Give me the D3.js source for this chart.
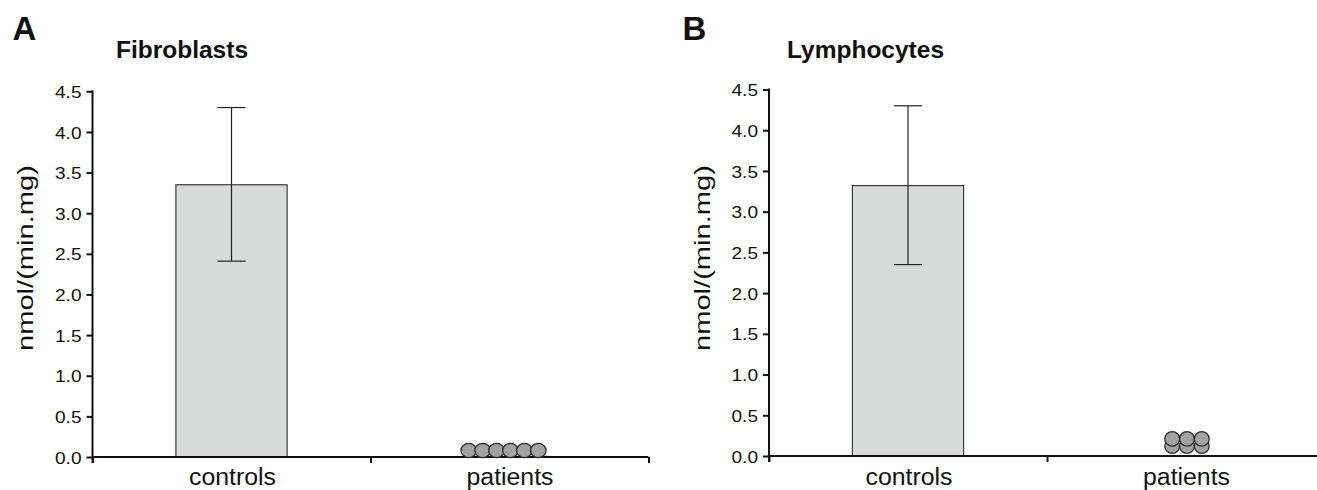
<!DOCTYPE html>
<html>
<head>
<meta charset="utf-8">
<script src="https://cdn.jsdelivr.net/npm/d3@7"></script>
<style>
  html, body { margin: 0; padding: 0; background: #fff; }
  svg { display: block; font-family: "Liberation Sans", Arial, Helvetica, sans-serif; }
</style>
</head>
<body>
<svg id="chart" width="1317" height="490"></svg>
<script>
// ---- data ----
const categories = ["controls", "patients"];
const yTicks = [0, 0.5, 1.0, 1.5, 2.0, 2.5, 3.0, 3.5, 4.0, 4.5];
const panelLetters = ["A", "B"];
const panelTitles = ["Fibroblasts", "Lymphocytes"];
const yLabel = "nmol/(min.mg)";

const controlMeans = [3.35, 3.32];
const controlErrLow = [2.41, 2.35];
const controlErrHigh = [4.30, 4.30];

const patientsFibroblasts = [0.08, 0.08, 0.08, 0.08, 0.08, 0.08];
const patientsLymphocytes = [0.12, 0.12, 0.12, 0.21, 0.21, 0.21];
const patientValues = [patientsFibroblasts, patientsLymphocytes];

// ---- layout ----
const layouts = [
  { axisX: 92.5, y0: 457, yTop: 91.3, letterX: 12.5, titleX: 182, dotShift: -6, dotSpacing: 13.9, rx: 7.8, ry: 7.1, catY: 484.5 },
  { axisX: 769, y0: 456, yTop: 89.5, letterX: 682.5, titleX: 865.5, dotShift: 1, dotSpacing: 14.8, rx: 7.4, ry: 7.2, catY: 484.5 }
];
const bandWidth = 278;

const svg = d3.select("#chart");

layouts.forEach((L, p) => {
  const g = svg.append("g");
  const y = d3.scaleLinear().domain([0, 4.5]).range([L.y0, L.yTop]);
  const x = d3.scaleBand().domain(categories).range([L.axisX, L.axisX + bandWidth * categories.length]).paddingInner(0).paddingOuter(0);
  const xEdge = d3.scaleLinear().domain([0, categories.length]).range([L.axisX, L.axisX + bandWidth * categories.length]);

  // panel letter and title
  g.append("text").attr("x", L.letterX).attr("y", 39.6)
    .attr("font-size", 33).attr("font-weight", "bold").attr("fill", "#111")
    .text(panelLetters[p]);
  g.append("text").attr("x", L.titleX).attr("y", 58.3)
    .attr("text-anchor", "middle")
    .attr("font-size", 24.5).attr("font-weight", "bold").attr("fill", "#111")
    .text(panelTitles[p]);

  // y label
  g.append("text")
    .attr("transform", `translate(${L.axisX - 59.5},${258}) rotate(-90)`)
    .attr("text-anchor", "middle")
    .attr("font-size", 22.5).attr("fill", "#111")
    .attr("textLength", 186).attr("lengthAdjust", "spacingAndGlyphs")
    .text(yLabel);

  // bar for controls
  const bw = bandWidth * 0.4;
  const cx = x("controls") + x.bandwidth() / 2;
  g.append("rect")
    .attr("x", cx - bw / 2).attr("y", y(controlMeans[p]))
    .attr("width", bw).attr("height", y(0) - y(controlMeans[p]))
    .attr("fill", "#d9dbdb").attr("stroke", "#3a3a3a").attr("stroke-width", 1.2);

  // error bar
  const capW = 28;
  g.append("line").attr("x1", cx).attr("x2", cx)
    .attr("y1", y(controlErrLow[p])).attr("y2", y(controlErrHigh[p]))
    .attr("stroke", "#222").attr("stroke-width", 1.2);
  [controlErrLow[p], controlErrHigh[p]].forEach(v => {
    g.append("line").attr("x1", cx - capW / 2).attr("x2", cx + capW / 2)
      .attr("y1", y(v)).attr("y2", y(v))
      .attr("stroke", "#222").attr("stroke-width", 1.2);
  });

  // y axis
  const yAxis = d3.axisLeft(y).tickValues(yTicks).tickFormat(d3.format(".1f"))
    .tickSize(6).tickPadding(5);
  const ya = g.append("g").attr("transform", `translate(${L.axisX},0)`).call(yAxis);
  ya.select(".domain").remove();
  ya.selectAll(".tick line").attr("stroke", "#111").attr("stroke-width", 2);
  ya.selectAll(".tick text")
    .attr("font-family", "Liberation Sans, Arial, sans-serif")
    .attr("font-size", 17).attr("fill", "#111")
    .attr("dy", "0.36em")
    .attr("textLength", 26.5).attr("lengthAdjust", "spacingAndGlyphs");

  // x axis with ticks at band edges
  const xAxis = d3.axisBottom(xEdge).tickValues(d3.range(categories.length + 1))
    .tickFormat("").tickSize(6).tickSizeOuter(0);
  const xa = g.append("g").attr("transform", `translate(0,${L.y0})`).call(xAxis);
  xa.select(".domain").remove();
  xa.selectAll(".tick line").attr("stroke", "#111").attr("stroke-width", 2);

  // axis lines
  g.append("line").attr("x1", L.axisX).attr("x2", L.axisX)
    .attr("y1", L.yTop - 1).attr("y2", L.y0 + 6)
    .attr("stroke", "#111").attr("stroke-width", 2);
  g.append("line").attr("x1", L.axisX).attr("x2", xEdge(categories.length))
    .attr("y1", L.y0).attr("y2", L.y0)
    .attr("stroke", "#111").attr("stroke-width", 2);

  // category labels
  categories.forEach(c => {
    g.append("text")
      .attr("x", x(c) + x.bandwidth() / 2 + (c === "controls" ? 1 : 0.5))
      .attr("y", L.catY)
      .attr("text-anchor", "middle")
      .attr("font-size", 23).attr("fill", "#111")
      .attr("textLength", 87).attr("lengthAdjust", "spacingAndGlyphs")
      .text(c);
  });

  // patient dots: identical values placed side by side
  const vals = patientValues[p];
  const groups = d3.groups(vals, v => v).sort((a, b) => a[0] - b[0]);
  const pcx = x("patients") + x.bandwidth() / 2 + L.dotShift;
  groups.forEach(([v, arr]) => {
    arr.forEach((d, i) => {
      g.append("ellipse")
        .attr("cx", pcx + (i - (arr.length - 1) / 2) * L.dotSpacing)
        .attr("cy", y(d))
        .attr("rx", L.rx).attr("ry", L.ry)
        .attr("fill", "#a2a2a2").attr("stroke", "#2a2a2a").attr("stroke-width", 1.3);
    });
  });
});
</script>
</body>
</html>
